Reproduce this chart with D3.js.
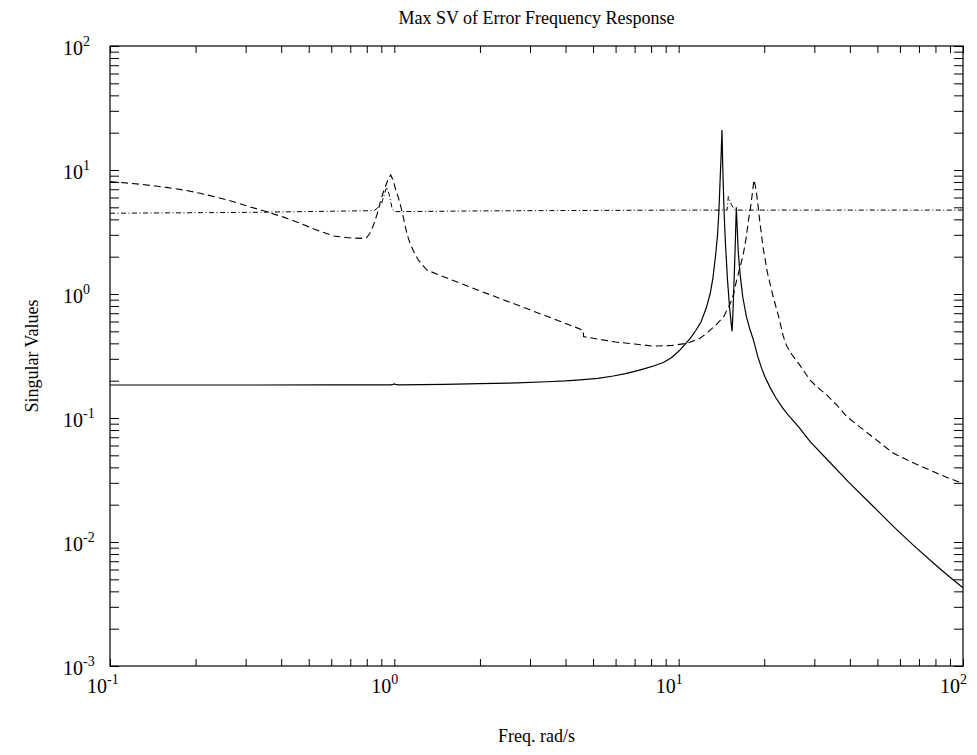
<!DOCTYPE html>
<html>
<head>
<meta charset="utf-8">
<script src="https://cdn.jsdelivr.net/npm/d3@7"></script>
<style>
  html, body { margin: 0; padding: 0; background: #fff; }
  svg { display: block; }
  text { font-family: "Liberation Serif", "Times New Roman", serif; fill: #000; }
</style>
</head>
<body>
<svg id="chart" width="977" height="755"></svg>
<script>
// ---- data ----
const titleText = "Max SV of Error Frequency Response";
const xLabelText = "Freq. rad/s";
const yLabelText = "Singular Values";

const xDecades = [-1, 0, 1, 2];        // tick labels 10^-1 .. 10^2
const yDecades = [-3, -2, -1, 0, 1, 2]; // tick labels 10^-3 .. 10^2

// solid series
const solidFreq = [0.1, 0.3, 0.6, 0.97, 0.99, 1.0, 1.01, 1.03, 1.5, 2.0, 2.7, 3.44, 4.0, 4.5, 5.2, 5.89, 6.5, 7.0, 7.6, 8.2, 8.83, 9.4, 10.0, 10.5, 11.0, 11.5, 12.0, 12.5, 12.9, 13.2, 13.5, 13.7, 13.85, 13.98, 14.1, 14.2, 14.3, 14.45, 14.6, 14.85, 15.1, 15.3, 15.42, 15.55, 15.7, 15.85, 15.95, 16.05, 16.2, 16.43, 16.8, 17.3, 17.8, 18.3, 19.0, 19.6, 20.1, 21, 22, 23, 24, 26.5, 29, 34, 40, 48, 57, 67, 79, 90, 100];
const solidVal  = [0.1845, 0.1845, 0.1847, 0.185, 0.1865, 0.188, 0.1865, 0.1852, 0.187, 0.189, 0.192, 0.196, 0.199, 0.203, 0.209, 0.218, 0.228, 0.238, 0.25, 0.264, 0.28, 0.305, 0.345, 0.39, 0.44, 0.51, 0.6, 0.77, 1.0, 1.35, 2.1, 3.0, 4.6, 8.0, 13, 21, 10, 4.5, 2.6, 1.3, 0.78, 0.58, 0.5, 0.8, 1.5, 3.0, 5.0, 3.6, 2.2, 1.48, 0.95, 0.66, 0.52, 0.43, 0.31, 0.25, 0.215, 0.175, 0.145, 0.124, 0.109, 0.0841, 0.0644, 0.044, 0.0297, 0.0197, 0.0133, 0.0094, 0.0067, 0.0052, 0.00428];

// dashed series
const dashFreq = [0.1, 0.13, 0.158, 0.185, 0.2075, 0.24, 0.272, 0.31, 0.356, 0.41, 0.466, 0.53, 0.61, 0.70, 0.778, 0.80, 0.82, 0.845, 0.87, 0.89, 0.91, 0.935, 0.955, 0.971, 0.99, 1.01, 1.03, 1.047, 1.07, 1.09, 1.11, 1.135, 1.17, 1.215, 1.3, 2.0, 3.0, 4.62, 4.63, 5.3, 6.0, 7.0, 8.14, 9.5, 10.67, 11.9, 12.5, 13.5, 14.4, 15.2, 15.6, 16.0, 16.5, 16.9, 17.3, 17.6, 17.9, 18.1, 18.3, 18.4, 18.6, 18.8, 19.05, 19.3, 19.8, 20.5, 21.5, 22.5, 23.3, 24.0, 25, 26.4, 29, 30.5, 33, 36, 39, 47, 56.9, 68, 80, 90, 100];
const dashVal  = [8.06, 7.65, 7.24, 6.85, 6.49, 6.0, 5.55, 5.05, 4.61, 4.15, 3.72, 3.3, 2.94, 2.83, 2.81, 2.85, 3.09, 3.6, 4.4, 5.38, 6.4, 7.6, 8.6, 9.12, 8.3, 7.0, 6.1, 5.38, 4.4, 3.6, 3.0, 2.57, 2.2, 1.88, 1.56, 1.06, 0.745, 0.51, 0.453, 0.43, 0.41, 0.395, 0.38, 0.385, 0.40, 0.44, 0.48, 0.56, 0.656, 0.84, 1.0, 1.30, 1.7, 2.13, 2.9, 3.95, 5.0, 6.1, 7.5, 8.3, 7.5, 6.4, 5.0, 3.8, 2.4, 1.5, 0.95, 0.65, 0.46, 0.38, 0.325, 0.276, 0.202, 0.18, 0.155, 0.127, 0.1026, 0.0733, 0.0519, 0.0427, 0.0363, 0.0324, 0.0297];

// dash-dot series
const dashDotFreq = [0.1, 0.3, 0.6, 0.85, 0.9, 0.94, 0.96, 0.98, 1.0, 1.1, 2.0, 10, 14.8, 14.95, 15.3, 15.6, 15.8, 100];
const dashDotVal  = [4.48, 4.55, 4.65, 4.70, 5.3, 7.3, 6.3, 5.0, 4.62, 4.62, 4.68, 4.75, 4.75, 6.1, 5.3, 4.9, 4.75, 4.75];

// ---- layout ----
const svg = d3.select("#chart");
const L = 110, R = 963, T = 46, B = 666;

const x = d3.scaleLog().domain([0.1, 100]).range([L, R]);
const y = d3.scaleLog().domain([0.001, 100]).range([B, T]);

function minorTicks(decs) {
  const out = [];
  for (let i = 0; i < decs.length - 1; i++) {
    for (let m = 1; m <= 9; m++) out.push(m * Math.pow(10, decs[i]));
  }
  out.push(Math.pow(10, decs[decs.length - 1]));
  return out;
}
const xt = minorTicks(xDecades);
const yt = minorTicks(yDecades);

function styleAxis(g) {
  g.select(".domain").remove();
  g.selectAll(".tick line").attr("stroke", "#000").attr("stroke-width", 1);
}

svg.append("g").attr("transform", `translate(0,${B})`)
  .call(d3.axisBottom(x).tickValues(xt).tickSize(-7).tickFormat(""))
  .call(styleAxis);
svg.append("g").attr("transform", `translate(0,${T})`)
  .call(d3.axisTop(x).tickValues(xt).tickSize(-7).tickFormat(""))
  .call(styleAxis);
svg.append("g").attr("transform", `translate(${L},0)`)
  .call(d3.axisLeft(y).tickValues(yt).tickSize(-9).tickFormat(""))
  .call(styleAxis);
svg.append("g").attr("transform", `translate(${R},0)`)
  .call(d3.axisRight(y).tickValues(yt).tickSize(-9).tickFormat(""))
  .call(styleAxis);

// box
svg.append("rect")
  .attr("x", L).attr("y", T).attr("width", R - L).attr("height", B - T)
  .attr("fill", "none").attr("stroke", "#000").attr("stroke-width", 1.2);

// tick labels
function powLabel(g, xx, yy, e) {
  const t = g.append("text").attr("x", xx).attr("y", yy).attr("font-size", 20);
  t.append("tspan").text("10");
  t.append("tspan").attr("dy", -9).attr("font-size", 14).text(String(e));
}
const lab = svg.append("g");
yDecades.forEach(e => powLabel(lab, 63, y(Math.pow(10, e)) + 8.5, e));
xDecades.forEach(e => powLabel(lab, x(Math.pow(10, e)) - 23, 693, e));

// titles
svg.append("text").attr("x", (L + R) / 2).attr("y", 24)
  .attr("text-anchor", "middle").attr("font-size", 18).text(titleText);
svg.append("text").attr("x", (L + R) / 2).attr("y", 742)
  .attr("text-anchor", "middle").attr("font-size", 18).text(xLabelText);
svg.append("text").attr("transform", `translate(38,${(T + B) / 2}) rotate(-90)`)
  .attr("text-anchor", "middle").attr("font-size", 18).text(yLabelText);

// lines
const line = d3.line().x(d => x(d[0])).y(d => y(d[1]));
const zip = (a, b) => a.map((v, i) => [v, b[i]]);

const plot = svg.append("g");
plot.append("path").datum(zip(dashDotFreq, dashDotVal)).attr("d", line)
  .attr("fill", "none").attr("stroke", "#000").attr("stroke-width", 1)
  .attr("stroke-dasharray", "5,2.5,1,2.5");
plot.append("path").datum(zip(dashFreq, dashVal)).attr("d", line)
  .attr("fill", "none").attr("stroke", "#000").attr("stroke-width", 1.1)
  .attr("stroke-dasharray", "7,4");
plot.append("path").datum(zip(solidFreq, solidVal)).attr("d", line)
  .attr("fill", "none").attr("stroke", "#000").attr("stroke-width", 1.2);
</script>
</body>
</html>
